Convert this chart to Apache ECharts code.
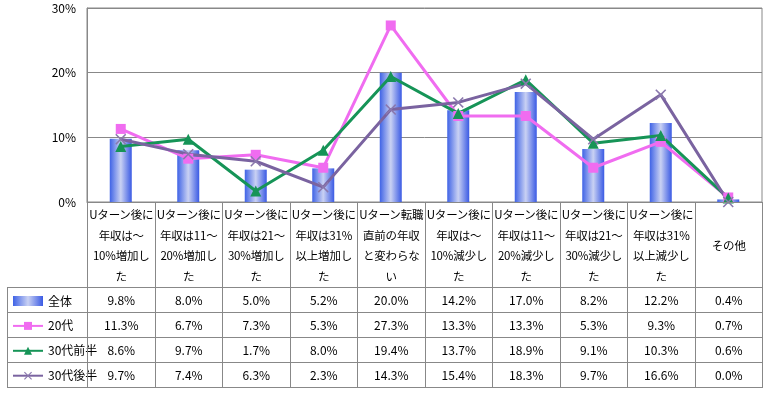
<!DOCTYPE html>
<html>
<head>
<meta charset="utf-8">
<script src="https://cdn.jsdelivr.net/npm/echarts@6/dist/echarts.min.js"></script>
<style>
body{margin:0;background:#fff;}
#wrap{position:relative;width:769px;height:398px;}
#chart{position:absolute;left:0;top:0;width:769px;height:398px;}
#tbl{position:absolute;left:7px;top:202px;border-collapse:collapse;table-layout:fixed;
  font-family:"Noto Sans CJK JP",sans-serif;font-size:12px;color:#000;}
#tbl td{border:1px solid #888;text-align:center;padding:0;white-space:nowrap;overflow:hidden;}
#tbl tr.head td{height:84px;line-height:20.5px;vertical-align:middle;font-size:11.5px;letter-spacing:-0.2px;}
#tbl tr.val td{height:24px;line-height:24px;}
#tbl td.blank{border:none;}
</style>
</head>
<body>
<div id="wrap">
  <div id="chart"></div>
  <table id="tbl"></table>
</div>
<script>
// カテゴリ（表の見出し、改行位置は元の表と同じ）
var categories = [
  'Uターン後に\n年収は～\n10%増加し\nた',
  'Uターン後に\n年収は11～\n20%増加し\nた',
  'Uターン後に\n年収は21～\n30%増加し\nた',
  'Uターン後に\n年収は31%\n以上増加し\nた',
  'Uターン転職\n直前の年収\nと変わらな\nい',
  'Uターン後に\n年収は～\n10%減少し\nた',
  'Uターン後に\n年収は11～\n20%減少し\nた',
  'Uターン後に\n年収は21～\n30%減少し\nた',
  'Uターン後に\n年収は31%\n以上減少し\nた',
  'その他'
];
var seriesNames = ['全体', '20代', '30代前半', '30代後半'];
var zentai  = [9.8, 8.0, 5.0, 5.2, 20.0, 14.2, 17.0, 8.2, 12.2, 0.4];
var age20   = [11.3, 6.7, 7.3, 5.3, 27.3, 13.3, 13.3, 5.3, 9.3, 0.7];
var age30a  = [8.6, 9.7, 1.7, 8.0, 19.4, 13.7, 18.9, 9.1, 10.3, 0.6];
var age30b  = [9.7, 7.4, 6.3, 2.3, 14.3, 15.4, 18.3, 9.7, 16.6, 0.0];
var yTicks  = [0, 10, 20, 30];

var allData = [zentai, age20, age30a, age30b];

// 表を作る
var tbl = document.getElementById('tbl');
var html = '<colgroup><col style="width:80px">';
for (var i = 0; i < categories.length; i++) html += '<col style="width:67.5px">';
html += '</colgroup><tr class="head"><td class="blank"></td>';
categories.forEach(function(c) {
  html += '<td>' + c.split('\n').join('<br>') + '</td>';
});
html += '</tr>';
allData.forEach(function(arr) {
  html += '<tr class="val"><td></td>';
  arr.forEach(function(v) { html += '<td>' + v.toFixed(1) + '%</td>'; });
  html += '</tr>';
});
tbl.innerHTML = html;

var barColor = new echarts.graphic.LinearGradient(0, 0, 1, 0, [
  {offset: 0, color: '#3f63e6'},
  {offset: 0.5, color: '#c9d1f3'},
  {offset: 1, color: '#3a5ae4'}
]);
var crossPath = 'path://M0,1L1,0L5,4L9,0L10,1L6,5L10,9L9,10L5,6L1,10L0,9L4,5Z';

var myChart = echarts.init(document.getElementById('chart'));
var option = {
  animation: false,
  textStyle: {fontFamily: '"Noto Sans CJK JP", sans-serif'},
  grid: {left: 87, top: 8, width: 675, height: 194, show: true, borderColor: '#888', borderWidth: 1},
  legend: {
    orient: 'vertical', left: 7, top: 290, itemGap: 12.9,
    itemWidth: 30, itemHeight: 10,
    textStyle: {fontSize: 12, color: '#000'},
    data: [
      {name: seriesNames[0], icon: 'rect'},
      seriesNames[1], seriesNames[2], seriesNames[3]
    ]
  },
  xAxis: {
    type: 'category', data: categories, boundaryGap: true,
    axisLabel: {show: false}, axisTick: {show: false},
    axisLine: {lineStyle: {color: '#888'}}
  },
  yAxis: {
    type: 'value', min: yTicks[0], max: yTicks[yTicks.length - 1], interval: 10,
    axisLabel: {formatter: '{value}%', color: '#000', fontSize: 12, margin: 11},
    axisLine: {show: true, lineStyle: {color: '#888'}},
    axisTick: {show: false},
    splitLine: {lineStyle: {color: '#888'}}
  },
  series: [
    {name: seriesNames[0], type: 'bar', data: zentai, barWidth: 22, itemStyle: {color: barColor}},
    {name: seriesNames[1], type: 'line', data: age20, symbol: 'rect', symbolSize: 10,
      itemStyle: {color: '#f06cf0'}, lineStyle: {width: 3, color: '#f06cf0'}},
    {name: seriesNames[2], type: 'line', data: age30a, symbol: 'triangle', symbolSize: 11,
      itemStyle: {color: '#169457'}, lineStyle: {width: 3, color: '#169457'}},
    {name: seriesNames[3], type: 'line', data: age30b, symbol: crossPath, symbolSize: 11,
      itemStyle: {color: '#8a78ad'}, lineStyle: {width: 3, color: '#7a63a0'}}
  ]
};
myChart.setOption(option);
</script>
</body>
</html>
